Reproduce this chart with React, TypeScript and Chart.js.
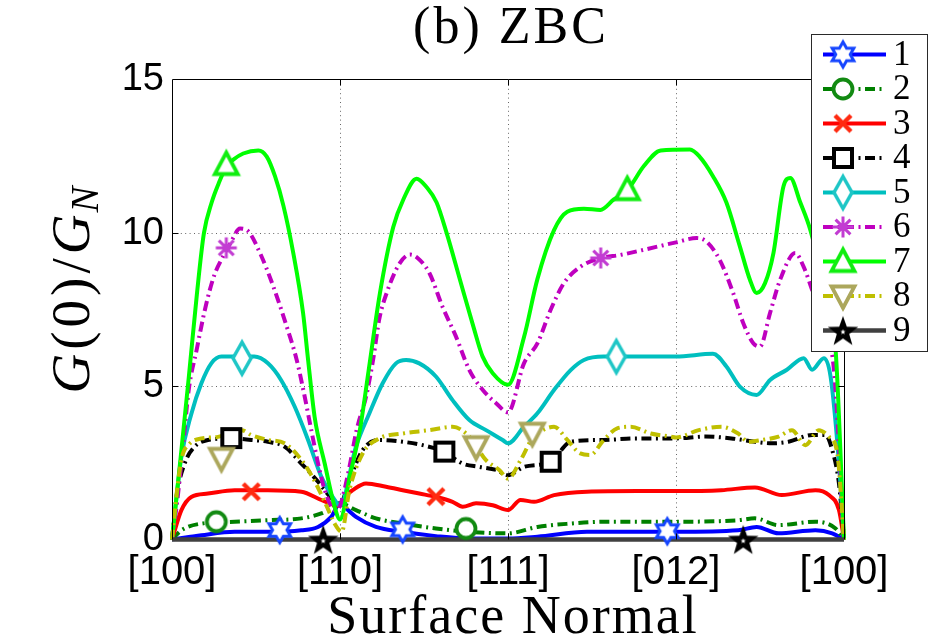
import React, { useEffect, useRef } from 'react';
import { Chart, registerables } from 'chart.js';
Chart.register(...registerables);

// ---------- data ----------
const xTickLabels = ['[100]', '[110]', '[111]', '[012]', '[100]'];
const seriesNames = ['1', '2', '3', '4', '5', '6', '7', '8', '9'];
const titleText = '(b) ZBC';
const xTitle = 'Surface Normal';

const curve1 = [[0,0],[0.1,0.08],[0.175,0.14],[0.373,0.25],[0.571,0.25],[0.77,0.3],[0.869,0.41],[0.948,0.74],[1.0,1.18],[1.05,0.95],[1.095,0.74],[1.214,0.41],[1.373,0.25],[1.571,0.11],[1.77,0.03],[2.0,0.03],[2.175,0.09],[2.47,0.25],[2.77,0.25],[3.0,0.25],[3.37,0.3],[3.48,0.41],[3.61,0.2],[3.83,0.3],[3.93,0.2],[4.0,0]];
const curve2 = [[0,0],[0.056,0.3],[0.175,0.52],[0.373,0.58],[0.571,0.63],[0.77,0.69],[0.889,0.85],[0.968,1.07],[1.0,1.18],[1.095,0.96],[1.214,0.69],[1.373,0.52],[1.571,0.36],[1.77,0.25],[2.0,0.2],[2.175,0.41],[2.373,0.52],[2.57,0.58],[3.0,0.58],[3.37,0.63],[3.47,0.69],[3.61,0.47],[3.83,0.58],[3.95,0.36],[4.0,0]];
const curve3 = [[0,0],[0.056,0.96],[0.115,1.39],[0.214,1.5],[0.373,1.61],[0.571,1.61],[0.77,1.56],[0.889,1.29],[0.968,1.12],[1.0,1.1],[1.04,1.45],[1.075,1.61],[1.155,1.83],[1.274,1.72],[1.373,1.61],[1.472,1.5],[1.571,1.39],[1.67,1.23],[1.73,1.07],[1.81,1.18],[1.909,1.12],[2.0,0.96],[2.075,1.29],[2.155,1.23],[2.274,1.45],[2.47,1.56],[2.77,1.58],[3.0,1.58],[3.27,1.61],[3.47,1.7],[3.63,1.45],[3.83,1.61],[3.91,1.45],[3.97,0.96],[4.0,0]];
const curve4 = [[0,0],[0.03,1.5],[0.075,2.48],[0.135,3.03],[0.214,3.25],[0.353,3.3],[0.472,3.25],[0.571,3.19],[0.67,3.03],[0.77,2.48],[0.861,1.94],[0.96,1.29],[1.0,1.15],[1.056,1.94],[1.135,2.92],[1.234,3.25],[1.373,3.19],[1.492,3.08],[1.621,2.86],[1.73,2.48],[1.829,2.37],[1.929,2.27],[2.0,2.1],[2.095,2.37],[2.254,2.54],[2.373,3.19],[2.57,3.25],[2.77,3.3],[3.0,3.3],[3.175,3.36],[3.33,3.3],[3.47,3.19],[3.57,3.14],[3.67,3.19],[3.81,3.41],[3.89,3.41],[3.93,2.92],[3.97,1.83],[4.0,0]];
const curve5 = [[0,0],[0.056,2.7],[0.115,4.1],[0.175,5.1],[0.234,5.75],[0.294,5.97],[0.413,5.97],[0.49,5.97],[0.571,5.75],[0.65,5.2],[0.73,4.34],[0.81,3.25],[0.889,2.05],[0.968,1.29],[1.0,1.1],[1.095,3.03],[1.175,4.12],[1.254,5.1],[1.333,5.75],[1.393,5.86],[1.472,5.75],[1.571,5.32],[1.67,4.55],[1.77,3.9],[1.869,3.57],[1.968,3.25],[2.0,3.14],[2.095,3.68],[2.175,4.12],[2.274,4.88],[2.373,5.53],[2.452,5.86],[2.57,5.97],[2.77,5.97],[3.0,5.97],[3.22,6.06],[3.3,5.65],[3.38,4.99],[3.48,4.72],[3.56,5.21],[3.66,5.54],[3.76,5.92],[3.81,5.54],[3.88,5.92],[3.92,5.32],[3.97,2.49],[4.0,0]];
const curve6 = [[0,0],[0.03,1.2],[0.065,3.0],[0.1,4.9],[0.147,6.2],[0.2,7.6],[0.25,8.6],[0.3,9.2],[0.35,9.7],[0.405,10.15],[0.454,10.06],[0.524,9.35],[0.603,8.26],[0.683,6.95],[0.742,5.87],[0.79,4.66],[0.829,3.57],[0.869,2.49],[0.909,1.62],[0.968,0.96],[1.0,1.1],[1.05,2.2],[1.1,3.6],[1.155,4.66],[1.198,5.9],[1.234,7.2],[1.278,8.05],[1.357,9.03],[1.417,9.3],[1.46,9.2],[1.532,8.7],[1.61,7.6],[1.69,6.63],[1.77,5.53],[1.85,4.88],[1.929,4.45],[2.0,4.15],[2.095,5.75],[2.175,6.4],[2.254,7.5],[2.333,8.37],[2.43,8.9],[2.55,9.18],[2.67,9.29],[2.81,9.46],[3.0,9.7],[3.123,9.84],[3.18,9.73],[3.26,9.13],[3.34,8.05],[3.4,7.07],[3.46,6.41],[3.5,6.3],[3.56,7.4],[3.62,8.48],[3.71,9.35],[3.76,8.9],[3.81,8.15],[3.88,7.0],[3.94,5.54],[4.0,0]];
const curve7 = [[0,0],[0.05,2.6],[0.1,5.3],[0.148,8.0],[0.19,10.0],[0.236,11.0],[0.276,11.6],[0.326,12.2],[0.365,12.4],[0.424,12.6],[0.514,12.7],[0.564,12.5],[0.613,11.86],[0.663,10.9],[0.722,9.35],[0.78,7.4],[0.81,5.87],[0.849,4.0],[0.909,2.48],[0.968,1.07],[1.0,0.65],[1.06,2.1],[1.119,3.6],[1.17,5.5],[1.238,8.05],[1.317,10.2],[1.377,11.1],[1.456,11.78],[1.516,11.5],[1.575,11.0],[1.635,10.0],[1.714,8.48],[1.794,6.95],[1.849,5.97],[1.909,5.43],[2.0,5.05],[2.095,6.6],[2.175,8.5],[2.274,10.1],[2.353,10.7],[2.452,10.8],[2.55,10.76],[2.63,11.1],[2.71,11.4],[2.81,12.2],[2.909,12.7],[3.083,12.73],[3.14,12.5],[3.22,11.86],[3.3,11.0],[3.38,9.57],[3.44,8.48],[3.48,8.05],[3.53,8.37],[3.58,9.35],[3.64,11.53],[3.68,11.8],[3.74,11.0],[3.8,10.1],[3.87,8.5],[3.95,6.2],[4.0,0]];
const curve8 = [[0,0],[0.03,1.6],[0.06,2.7],[0.1,3.1],[0.175,3.3],[0.274,3.35],[0.35,3.5],[0.413,3.57],[0.472,3.41],[0.571,3.25],[0.67,3.14],[0.77,2.6],[0.84,2.0],[0.92,1.1],[0.97,0.5],[1.01,0.25],[1.056,1.61],[1.135,2.81],[1.234,3.3],[1.373,3.46],[1.532,3.57],[1.67,3.68],[1.77,3.36],[1.869,2.59],[1.948,2.27],[2.0,1.99],[2.075,2.59],[2.145,3.3],[2.2,3.55],[2.274,3.68],[2.353,3.25],[2.43,2.81],[2.49,2.76],[2.57,3.25],[2.65,3.63],[2.73,3.68],[2.85,3.46],[2.968,3.36],[3.0,3.33],[3.135,3.57],[3.27,3.68],[3.37,3.46],[3.43,3.19],[3.51,3.25],[3.61,3.36],[3.69,3.57],[3.77,3.08],[3.85,3.57],[3.91,3.36],[3.96,2.81],[4.0,0]];
const curve9 = [[0,0],[4,0]];

const marks1 = [[0.641,0.31],[1.373,0.33],[2.948,0.27]];
const marks2 = [[0.264,0.58],[1.75,0.36]];
const marks3 = [[0.472,1.56],[1.571,1.4]];
const marks4 = [[0.353,3.31],[1.621,2.87],[2.254,2.54]];
const marks5 = [[0.417,5.92],[2.645,5.97]];
const marks6 = [[0.323,9.52],[2.552,9.19]];
const marks7 = [[0.323,12.24],[2.71,11.42]];
const marks8 = [[0.294,2.65],[1.81,3.03],[2.145,3.47]];
const marks9 = [[0.9,0],[3.4,0]];

const curves = [curve1, curve2, curve3, curve4, curve5, curve6, curve7, curve8, curve9];
const marks = [marks1, marks2, marks3, marks4, marks5, marks6, marks7, marks8, marks9];

// ---------- styles ----------
const SERIF = '"Liberation Serif", "DejaVu Serif", "Times New Roman", serif';
const SANS = '"Liberation Sans", Arial, "DejaVu Sans", sans-serif';
const lineColors = ['#0000ff', '#008000', '#ff0000', '#000000', '#00bfbf', '#bf00bf', '#00ff00', '#bfbf00', '#404040'];
const markerColors = ['#1545ff', '#128a12', '#ff2a10', '#000000', '#1ec6c6', '#c23cd2', '#10ee10', '#aca75c', '#000000'];
const markerKinds = ['hexagram', 'circle', 'x', 'square', 'diamond', 'asterisk', 'triUp', 'triDown', 'pentagram'];
const isDashed = [false, true, false, true, false, true, false, true, false];
const DASH = [10, 4.5, 2, 4.5];
const LW = 4;

function makeMarker(kind: string, color: string): HTMLCanvasElement {
  const c = document.createElement('canvas');
  const W = 44, H = 44;
  c.width = W; c.height = H;
  const ctx = c.getContext('2d') as CanvasRenderingContext2D;
  ctx.translate(W / 2, H / 2);
  ctx.strokeStyle = color;
  ctx.fillStyle = '#ffffff';
  ctx.lineWidth = 3;
  ctx.lineJoin = 'miter';
  const poly = (pts: number[][]) => {
    ctx.beginPath();
    pts.forEach((p, i) => (i ? ctx.lineTo(p[0], p[1]) : ctx.moveTo(p[0], p[1])));
    ctx.closePath();
  };
  if (kind === 'hexagram') {
    const R = 12.5, r = R / Math.sqrt(3);
    const pts: number[][] = [];
    for (let k = 0; k < 12; k++) {
      const a = -Math.PI / 2 + (k * Math.PI) / 6;
      const rr = k % 2 === 0 ? R : r;
      pts.push([rr * Math.cos(a), rr * Math.sin(a)]);
    }
    poly(pts); ctx.fill(); ctx.lineWidth = 3; ctx.stroke();
  } else if (kind === 'circle') {
    ctx.beginPath(); ctx.arc(0, 0, 9.5, 0, Math.PI * 2); ctx.fill(); ctx.lineWidth = 3.8; ctx.stroke();
  } else if (kind === 'x') {
    ctx.lineWidth = 4.4; ctx.lineCap = 'butt';
    ctx.beginPath(); ctx.moveTo(-8, -8); ctx.lineTo(8, 8); ctx.moveTo(8, -8); ctx.lineTo(-8, 8); ctx.stroke();
  } else if (kind === 'square') {
    ctx.beginPath(); ctx.rect(-9, -9, 18, 18); ctx.fill(); ctx.lineWidth = 4; ctx.stroke();
  } else if (kind === 'diamond') {
    poly([[0, -16], [9, 0], [0, 16], [-9, 0]]); ctx.fill(); ctx.lineWidth = 3.5; ctx.stroke();
  } else if (kind === 'asterisk') {
    ctx.lineWidth = 3;
    ctx.beginPath();
    for (let k = 0; k < 4; k++) {
      const a = (k * Math.PI) / 4;
      ctx.moveTo(-10.5 * Math.cos(a), -10.5 * Math.sin(a));
      ctx.lineTo(10.5 * Math.cos(a), 10.5 * Math.sin(a));
    }
    ctx.stroke();
  } else if (kind === 'triUp') {
    poly([[0, -12], [11.5, 9.5], [-11.5, 9.5]]); ctx.fill(); ctx.lineWidth = 3.8; ctx.stroke();
  } else if (kind === 'triDown') {
    poly([[0, 12], [11.5, -9.5], [-11.5, -9.5]]); ctx.fill(); ctx.lineWidth = 3.8; ctx.stroke();
  } else if (kind === 'pentagram') {
    const R = 16, r = 6.5;
    const pts: number[][] = [];
    for (let k = 0; k < 10; k++) {
      const a = -Math.PI / 2 + (k * Math.PI) / 5;
      const rr = k % 2 === 0 ? R : r;
      pts.push([rr * Math.cos(a), rr * Math.sin(a) + 1.5]);
    }
    poly(pts); ctx.fillStyle = color; ctx.fill();
    const pts2: number[][] = [];
    for (let k = 0; k < 10; k++) {
      const a = -Math.PI / 2 + (k * Math.PI) / 5;
      const rr = k % 2 === 0 ? 2.8 : 1.2;
      pts2.push([rr * Math.cos(a), rr * Math.sin(a) + 1.5]);
    }
    poly(pts2); ctx.fillStyle = '#ffffff'; ctx.fill();
  }
  return c;
}

const App: React.FC = () => {
  const ref = useRef<HTMLCanvasElement | null>(null);

  useEffect(() => {
    if (!ref.current) return;
    const markerImgs = markerKinds.map((k, i) => makeMarker(k, markerColors[i]));

    const lineSets = curves.map((c, i) => ({
      type: 'line' as const,
      label: seriesNames[i],
      data: c.map(([x, y]) => ({ x, y })),
      borderColor: lineColors[i],
      backgroundColor: lineColors[i],
      borderWidth: i === 8 ? 4.5 : LW,
      borderDash: isDashed[i] ? DASH : [],
      pointRadius: 0,
      fill: false,
      cubicInterpolationMode: 'monotone' as const,
      clip: i === 8 ? false : 2,
      order: 50 - i,
    }));
    const markSets = marks.map((m, i) => ({
      type: 'line' as const,
      label: 'm' + seriesNames[i],
      data: m.map(([x, y]) => ({ x, y })),
      showLine: false,
      pointStyle: markerImgs[i],
      pointRadius: 11,
      pointBorderWidth: 0,
      clip: false,
      order: 20 - i,
    }));

    const framePlugin = {
      id: 'frame',
      afterDatasetsDraw(chart: any) {
        const { ctx, chartArea: a, scales } = chart;
        ctx.save();
        ctx.strokeStyle = '#000';
        ctx.lineWidth = 1;
        const L = Math.round(a.left) + 0.5, R = Math.round(a.right) + 0.5, T = Math.round(a.top) - 0.5;
        ctx.beginPath();
        ctx.moveTo(L, a.bottom); ctx.lineTo(L, T); ctx.lineTo(R, T); ctx.lineTo(R, a.bottom);
        ctx.stroke();
        ctx.beginPath();
        [1, 2, 3].forEach((v) => {
          const px = Math.round(scales.x.getPixelForValue(v)) + 0.5;
          ctx.moveTo(px, T); ctx.lineTo(px, T + 6);
          ctx.moveTo(px, a.bottom); ctx.lineTo(px, a.bottom - 6);
        });
        [5, 10].forEach((v) => {
          const py = Math.round(scales.y.getPixelForValue(v)) + 0.5;
          ctx.moveTo(L, py); ctx.lineTo(L + 6, py);
          ctx.moveTo(R, py); ctx.lineTo(R - 6, py);
        });
        ctx.stroke();
        ctx.restore();
      },
      afterDraw(chart: any) {
        const { ctx } = chart;
        ctx.save();
        ctx.fillStyle = '#000';
        ctx.textAlign = 'center';
        ctx.textBaseline = 'alphabetic';
        ctx.font = `52px ${SERIF}`;
        (ctx as any).letterSpacing = '3px';
        ctx.fillText(titleText, 511, 43);
        ctx.font = `54px ${SERIF}`;
        (ctx as any).letterSpacing = '2px';
        ctx.fillText(xTitle, 513, 633);
        // y title
        ctx.save();
        ctx.translate(89, 287);
        ctx.rotate(-Math.PI / 2);
        (ctx as any).letterSpacing = '4px';
        const fs = 55;
        const parts: [string, string][] = [
          ['G', `italic ${fs}px ${SERIF}`],
          ['(0)/', `${fs}px ${SERIF}`],
          ['G', `italic ${fs}px ${SERIF}`],
        ];
        const subFont = `italic ${Math.round(fs * 0.7)}px ${SERIF}`;
        let total = 0;
        parts.forEach(([t, f]) => { ctx.font = f; total += ctx.measureText(t).width; });
        ctx.font = subFont; total += ctx.measureText('N').width;
        let xp = -total / 2;
        ctx.textAlign = 'left';
        parts.forEach(([t, f]) => { ctx.font = f; ctx.fillText(t, xp, 0); xp += ctx.measureText(t).width; });
        ctx.font = subFont; ctx.fillText('N', xp - 2, 9);
        ctx.restore();
        // legend
        (ctx as any).letterSpacing = '0px';
        const bx = 811, by = 34, bw = 116, bh = 317;
        ctx.fillStyle = '#fff';
        ctx.fillRect(bx, by, bw, bh);
        ctx.strokeStyle = '#2a2a2a';
        ctx.lineWidth = 1;
        ctx.strokeRect(bx + 0.5, by + 0.5, bw, bh);
        seriesNames.forEach((name, i) => {
          const y = 54.5 + i * 34.5;
          ctx.save();
          ctx.strokeStyle = lineColors[i];
          ctx.lineWidth = i === 8 ? 4.5 : LW;
          ctx.setLineDash(isDashed[i] ? DASH : []);
          ctx.beginPath(); ctx.moveTo(823, y); ctx.lineTo(886, y); ctx.stroke();
          ctx.restore();
          const img = markerImgs[i];
          ctx.drawImage(img, 843 - img.width / 2, y - img.height / 2);
          ctx.fillStyle = '#000';
          ctx.font = `35px ${SERIF}`;
          ctx.textAlign = 'left';
          ctx.textBaseline = 'middle';
          ctx.fillText(name, 893, y + 1);
        });
        ctx.restore();
      },
    };

    const chart = new Chart(ref.current, {
      type: 'line',
      data: { datasets: [...lineSets, ...markSets] as any },
      options: {
        animation: false,
        responsive: false,
        devicePixelRatio: 1,
        events: [],
        parsing: false as any,
        layout: { padding: { left: 0, top: 80, right: 92, bottom: 0 } },
        plugins: { legend: { display: false }, tooltip: { enabled: false }, title: { display: false } },
        scales: {
          x: {
            type: 'linear',
            min: 0,
            max: 4,
            afterFit: (s: any) => { s.height = 636 - 539.5; },
            ticks: {
              stepSize: 1,
              autoSkip: false,
              maxRotation: 0,
              padding: 9,
              color: '#000',
              font: { family: SANS, size: 40 },
              callback: (v: any) => xTickLabels[Math.round(Number(v))] ?? '',
            },
            grid: {
              drawTicks: false,
              lineWidth: 1,
              color: (c: any) => (c.tick && (c.tick.value === 0 || c.tick.value === 4) ? 'rgba(0,0,0,0)' : 'rgba(0,0,0,0.6)'),
            },
            border: { display: false, dash: [1, 3.4] },
          },
          y: {
            type: 'linear',
            min: 0,
            max: 15,
            afterFit: (s: any) => { s.width = 172; },
            ticks: {
              stepSize: 5,
              padding: 8,
              color: '#000',
              font: { family: SANS, size: 38 },
            },
            grid: {
              drawTicks: false,
              lineWidth: 1,
              color: (c: any) => (c.tick && (c.tick.value === 0 || c.tick.value === 15) ? 'rgba(0,0,0,0)' : 'rgba(0,0,0,0.6)'),
            },
            border: { display: false, dash: [1, 3.4] },
          },
        },
      } as any,
      plugins: [framePlugin],
    });
    return () => chart.destroy();
  }, []);

  return (
    <div style={{ position: 'absolute', left: 0, top: 0, width: 936, height: 636, background: '#fff' }}>
      <canvas ref={ref} width={936} height={636} style={{ display: 'block', width: 936, height: 636 }} />
    </div>
  );
};

export default App;
